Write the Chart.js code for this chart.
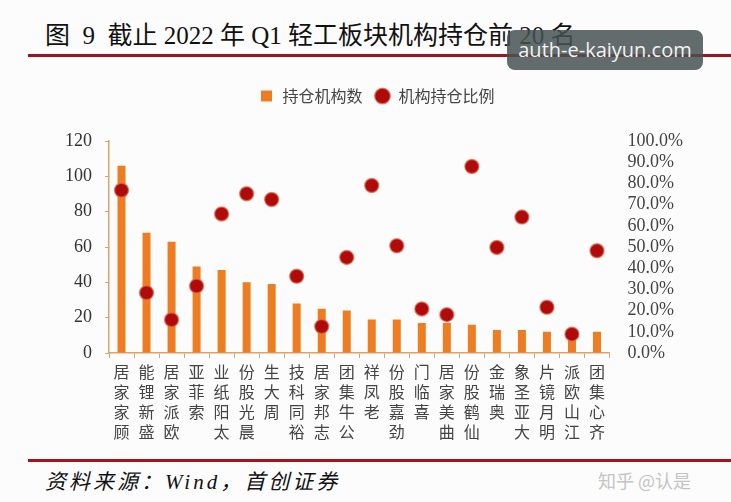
<!DOCTYPE html>
<html>
<head>
<meta charset="utf-8">
<script src="https://cdn.jsdelivr.net/npm/chart.js@4.4.0/dist/chart.umd.min.js"></script>
<style>
  body { margin: 0; width: 731px; height: 502px; background: #fcfcfc; position: relative; overflow: hidden; }
  #title { position: absolute; left: 45px; top: 15px; font-size: 25px; color: #111; white-space: pre;
           font-family: "Liberation Serif", "Noto Sans CJK SC", serif; }
  .rule { position: absolute; left: 28px; right: 0; height: 3px; background: #a3121d; }
  #wrap { position: absolute; left: 0; top: 72px; width: 731px; height: 382px; }
  #src { position: absolute; left: 45px; top: 465px; font-size: 21px; font-style: italic; color: #111; letter-spacing: 3px;
         font-family: "Liberation Serif", "Noto Sans CJK SC", serif; }
  #zh { position: absolute; left: 598px; top: 467px; font-size: 18px; color: #c4c4c4; font-family: "Noto Sans CJK SC", sans-serif; }
  #wm { position: absolute; left: 507px; top: 30px; width: 196px; height: 40px; border-radius: 8px;
        background: rgba(72, 82, 82, 0.85); color: #f2f2f2; font: 20px "Open Sans", sans-serif;
        line-height: 40px; text-align: center; }
</style>
</head>
<body>
<div id="title">图  9  截止 2022 年 Q1 轻工板块机构持仓前 20 名</div>
<div class="rule" style="top:54px"></div>
<div id="wrap"><canvas id="myChart"></canvas></div>
<div class="rule" style="top:459px"></div>
<div id="src">资料来源：Wind，首创证券</div>
<div id="zh">知乎 @认是</div>
<div id="wm">auth-e-kaiyun.com</div>
<script>
// top 20 light-industry stocks by number of fund holders, 2022 Q1
const categories = ['顾家家居', '盛新锂能', '欧派家居', '索菲亚', '太阳纸业', '晨光股份', '周大生', '裕同科技', '志邦家居', '公牛集团',
  '老凤祥', '劲嘉股份', '喜临门', '曲美家居', '仙鹤股份', '奥瑞金', '大亚圣象', '明月镜片', '江山欧派', '齐心集团'];
const holders = [106, 68, 63, 49, 47, 40, 39, 28, 25, 24, 19, 19, 17, 17, 16, 13, 13, 12, 9, 12];
const holdRatio = [76.8, 28.4, 15.7, 31.6, 65.6, 75.1, 72.4, 36.2, 12.5, 45.1, 79.0, 50.6, 20.8, 18.1, 88.0, 49.8, 64.1, 21.6, 8.9, 48.2];

// labels are stacked vertically, read bottom to top
const labels = categories.map((c) => c.split('').reverse());

const axisColor = '#d9a46a';

const legendSpace = {
  id: 'legendSpace',
  beforeInit(chart) {
    const fit = chart.legend.fit;
    chart.legend.fit = function () {
      fit.bind(chart.legend)();
      this.height += 27;
    };
  },
};

const config = {
  type: 'bar',
  data: {
    labels: labels,
    datasets: [
      {
        label: '持仓机构数',
        data: holders,
        backgroundColor: '#ee7d22',
        pointStyle: 'rect',
        categoryPercentage: 1,
        barPercentage: 0.32,
        yAxisID: 'y',
        order: 2,
      },
      {
        type: 'line',
        label: '机构持仓比例',
        data: holdRatio,
        showLine: false,
        pointStyle: 'circle',
        pointRadius: 7,
        pointBackgroundColor: '#b00a0a',
        pointBorderColor: 'rgba(215,110,80,0.7)',
        pointBorderWidth: 1.5,
        backgroundColor: '#b00a0a',
        borderColor: '#b00a0a',
        yAxisID: 'y1',
        order: 1,
      },
    ],
  },
  options: {
    responsive: false,
    animation: false,
    layout: { padding: { left: 52, right: 30, top: 4, bottom: 8 } },
    plugins: {
      tooltip: { enabled: false },
      legend: {
        position: 'top',
        labels: {
          usePointStyle: true,
          boxHeight: 11,
          padding: 12,
          color: '#444',
          font: { family: '"Noto Sans CJK SC", sans-serif', size: 16 },
          sort: (a, b) => a.datasetIndex - b.datasetIndex,
        },
      },
    },
    scales: {
      x: {
        border: { color: axisColor, width: 1.5 },
        grid: { drawOnChartArea: false, color: axisColor, tickLength: 5, offset: true },
        ticks: {
          autoSkip: false,
          maxRotation: 0,
          padding: 4,
          color: '#444',
          font: { family: '"Noto Sans CJK SC", sans-serif', size: 16, lineHeight: 1.25 },
        },
      },
      y: {
        position: 'left',
        min: 0,
        max: 120,
        border: { color: axisColor, width: 1.5 },
        grid: { drawOnChartArea: false, color: axisColor, tickLength: 4 },
        ticks: {
          stepSize: 20,
          padding: 13,
          color: '#333',
          font: { family: '"Liberation Serif", serif', size: 18 },
        },
      },
      y1: {
        position: 'right',
        min: 0,
        max: 100,
        border: { display: false },
        grid: { display: false, drawTicks: false },
        ticks: {
          stepSize: 10,
          autoSkip: false,
          padding: 18,
          color: '#444',
          font: { family: '"Liberation Serif", serif', size: 18 },
          callback: (v) => v.toFixed(1) + '%',
        },
      },
    },
  },
  plugins: [legendSpace],
};

const canvas = document.getElementById('myChart');
canvas.width = 731;
canvas.height = 382;
var myChart = new Chart(canvas, config);
</script>
</body>
</html>
